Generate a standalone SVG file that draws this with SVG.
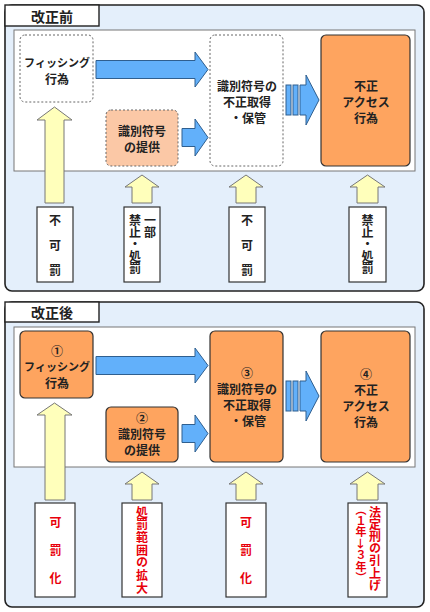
<svg xmlns="http://www.w3.org/2000/svg" width="430" height="612" viewBox="0 0 430 612">
<style>
.panel{fill:#e4effb;stroke:#222;stroke-width:1.6}
.title{fill:#fff;stroke:#222;stroke-width:1.4}
.inner{fill:#fff;stroke:#777;stroke-width:1}
.dash{fill:#fff;stroke:#666;stroke-width:1;stroke-dasharray:2 2}
.dashfill{fill:#fbc8a6;stroke:#666;stroke-width:1;stroke-dasharray:2 2}
.solid{fill:#fea45f;stroke:#333;stroke-width:1.2}
.blue{fill:#62b0fa;stroke:#2f5f8f;stroke-width:1}
.yel{fill:#ffffbb;stroke:#777;stroke-width:1}
.tbox{fill:#fff;stroke:#333;stroke-width:1.2}
text{font-family:"Noto Sans CJK JP","Liberation Sans",sans-serif;font-weight:bold;font-size:12px;fill:#222;text-anchor:middle;dominant-baseline:central}
.tt{font-size:14px;fill:#222}
.red{fill:#e8000b}
.sm{font-size:11px}
.v{writing-mode:vertical-rl;text-anchor:start}
</style>

<!-- Panel 1 -->
<g id="panel-before">
<rect class="panel" x="5" y="5" width="419" height="286" rx="7"/>
<rect class="inner" x="14" y="30" width="401" height="141"/>
<rect class="title" x="5" y="5" width="94" height="21"/>
<text class="tt" x="52" y="15.5">改正前</text>
</g>

<g id="connectors-before">
<polygon class="blue" points="96,60.5 195,60.5 195,52 208,69.5 195,87 195,78.5 96,78.5"/>
<polygon class="blue" points="182,128.5 195,128.5 195,119 208,137.5 195,156 195,146.5 182,146.5"/>
<rect class="blue" x="286" y="85" width="5" height="30"/>
<rect class="blue" x="293" y="85" width="5" height="30"/>
<polygon class="blue" points="300,85 306,85 306,75 319,100 306,125 306,115 300,115"/>
<polygon class="yel" points="54.5,107 72,120 64,120 64,203 45,203 45,120 37,120"/>
<polygon class="yel" points="142,175 159,187 152,187 152,203 132,203 132,187 125,187"/>
<polygon class="yel" points="246,175 263,187 256,187 256,203 236,203 236,187 229,187"/>
<polygon class="yel" points="367.5,175 385,187 378,187 378,203 357,203 357,187 350,187"/>
</g>

<g id="b-phishing">
<rect class="dash" x="20" y="35" width="73" height="67" rx="5"/>
<text x="57" y="62" class="sm">フィッシング</text>
<text x="57" y="78">行為</text>
</g>
<g id="b-provide">
<rect class="dashfill" x="106" y="110" width="72" height="56" rx="5"/>
<text x="142" y="130">識別符号</text>
<text x="142" y="146">の提供</text>
</g>
<g id="b-acquire">
<rect class="dash" x="210" y="35" width="73" height="131" rx="5"/>
<text x="247" y="85">識別符号の</text>
<text x="247" y="101">不正取得</text>
<text x="248" y="117">・保管</text>
</g>
<g id="b-access">
<rect class="solid" x="321" y="35" width="89" height="131" rx="5"/>
<text x="366" y="85">不正</text>
<text x="366" y="101">アクセス</text>
<text x="366" y="117">行為</text>
</g>

<g id="b-label1">
<rect class="tbox" x="37" y="207" width="36" height="75"/>
<text class="v" x="55" y="214" style="letter-spacing:13px">不可罰</text>
</g>
<g id="b-label2">
<rect class="tbox" x="124" y="207" width="36" height="75"/>
<text class="v" x="150" y="214">一部</text>
<text class="v" x="135" y="214" style="letter-spacing:0.2px">禁止・処罰</text>
</g>
<g id="b-label3">
<rect class="tbox" x="229" y="207" width="36" height="75"/>
<text class="v" x="247" y="214" style="letter-spacing:13px">不可罰</text>
</g>
<g id="b-label4">
<rect class="tbox" x="349" y="207" width="37" height="75"/>
<text class="v" x="367.5" y="214" style="letter-spacing:0.2px">禁止・処罰</text>
</g>

<!-- Panel 2 -->
<g id="panel-after">
<rect class="panel" x="5" y="302" width="419" height="305" rx="7"/>
<rect class="inner" x="14" y="327" width="401" height="140"/>
<rect class="title" x="5" y="302" width="94" height="20"/>
<text class="tt" x="52" y="312">改正後</text>
</g>

<g id="connectors-after">
<polygon class="blue" points="96,356.5 195,356.5 195,348 208,365.5 195,383 195,374.5 96,374.5"/>
<polygon class="blue" points="182,424.5 195,424.5 195,415 208,433.5 195,452 195,442.5 182,442.5"/>
<rect class="blue" x="286" y="381" width="5" height="30"/>
<rect class="blue" x="293" y="381" width="5" height="30"/>
<polygon class="blue" points="300,381 306,381 306,371 319,396 306,421 306,411 300,411"/>
<polygon class="yel" points="54.5,403 72,415 65,415 65,500 45,500 45,415 37,415"/>
<polygon class="yel" points="142,472 159,484 152,484 152,500 132,500 132,484 125,484"/>
<polygon class="yel" points="246,472 263,484 256,484 256,500 236,500 236,484 229,484"/>
<polygon class="yel" points="367.5,472 385,484 378,484 378,500 357,500 357,484 350,484"/>
</g>

<g id="a-phishing">
<rect class="solid" x="20" y="331" width="73" height="67" rx="5"/>
<text x="57" y="350">①</text>
<text x="57" y="366" class="sm">フィッシング</text>
<text x="57" y="382">行為</text>
</g>
<g id="a-provide">
<rect class="solid" x="106" y="407" width="72" height="55" rx="5"/>
<text x="142" y="417">②</text>
<text x="142" y="433">識別符号</text>
<text x="142" y="449">の提供</text>
</g>
<g id="a-acquire">
<rect class="solid" x="210" y="331" width="73" height="131" rx="5"/>
<text x="247" y="372">③</text>
<text x="247" y="388">識別符号の</text>
<text x="247" y="404">不正取得</text>
<text x="248" y="420">・保管</text>
</g>
<g id="a-access">
<rect class="solid" x="321" y="331" width="89" height="131" rx="5"/>
<text x="366" y="373">④</text>
<text x="366" y="389">不正</text>
<text x="366" y="405">アクセス</text>
<text x="366" y="421">行為</text>
</g>

<g id="a-label1">
<rect class="tbox" x="35" y="503" width="40" height="94"/>
<text class="v red" x="55.5" y="516" style="letter-spacing:16px">可罰化</text>
</g>
<g id="a-label2">
<rect class="tbox" x="122" y="503" width="40" height="94"/>
<text class="v red" x="142" y="506" style="letter-spacing:0.7px">処罰範囲の拡大</text>
</g>
<g id="a-label3">
<rect class="tbox" x="226" y="503" width="40" height="94"/>
<text class="v red" x="246" y="516" style="letter-spacing:16px">可罰化</text>
</g>
<g id="a-label4">
<rect class="tbox" x="348" y="503" width="39" height="94"/>
<text class="v red" x="375" y="506" style="letter-spacing:0.2px">法定刑の引上げ</text>
<text class="v red sm" x="361" y="504" style="letter-spacing:0.4px">（１年→３年）</text>
</g>
</svg>
